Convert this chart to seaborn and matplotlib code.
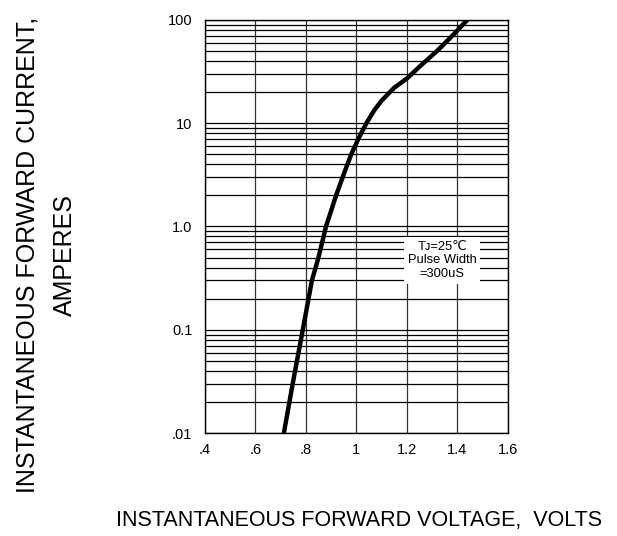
import numpy as np
import pandas as pd
import seaborn as sns
import matplotlib
matplotlib.use('Agg')
import matplotlib.pyplot as plt
from matplotlib.ticker import LogLocator, FixedLocator, NullFormatter

# Curve
voltage = [0.713, 0.750, 0.788, 0.824, 0.850, 0.880, 0.920, 0.950, 0.980, 1.010, 1.040, 1.070, 1.100, 1.150, 1.200, 1.260, 1.320, 1.380, 1.440]
current = [0.01, 0.032, 0.1, 0.3, 0.5, 1.0, 2.0, 3.2, 5.0, 7.2, 10.0, 13.2, 16.5, 22.0, 27.0, 37.0, 50.0, 70.0, 100.0]

x_ticks = [0.4, 0.6, 0.8, 1.0, 1.2, 1.4, 1.6]
x_tick_labels = ['.4', '.6', '.8', '1', '1.2', '1.4', '1.6']
y_ticks = [0.01, 0.1, 1.0, 10, 100]
y_tick_labels = ['.01', '0.1', '1.0', '10', '100']

df = pd.DataFrame({'voltage': voltage, 'current': current})

sns.set_style('white')
plt.rcParams['font.family'] = ['Liberation Sans', 'DejaVu Sans']
plt.rcParams['text.color'] = 'black'
plt.rcParams['xtick.color'] = 'black'
plt.rcParams['ytick.color'] = 'black'

fig = plt.figure(figsize=(6.17, 5.36), dpi=100)
ax = fig.add_axes([0.332, 0.192, 0.491, 0.771])

sns.lineplot(data=df, x='voltage', y='current', color='black', linewidth=3.2,
             sort=False, ax=ax, zorder=5)

ax.set_yscale('log')
ax.set_xlim(0.4, 1.6)
ax.set_ylim(0.01, 100)

ax.xaxis.set_major_locator(FixedLocator(x_ticks))
ax.set_xticklabels(x_tick_labels)
ax.yaxis.set_major_locator(FixedLocator(y_ticks))
ax.set_yticklabels(y_tick_labels)
ax.yaxis.set_minor_locator(LogLocator(base=10, subs=np.arange(2, 10)))
ax.yaxis.set_minor_formatter(NullFormatter())

ax.grid(True, which='major', axis='x', color='#333333', linewidth=0.9)
ax.grid(True, which='both', axis='y', color='black', linewidth=0.9)
ax.tick_params(which='both', length=0, labelsize=10.5)
ax.tick_params(axis='x', pad=7)
ax.tick_params(axis='y', pad=9)
for s in ax.spines.values():
    s.set_color('black')
    s.set_linewidth(1.0)

ax.set_xlabel('')
ax.set_ylabel('')

ax.text(1.34, 0.47, 'T\u1d0a=25\u2103\nPulse Width\n=300uS',
        ha='center', va='center', fontsize=9.3, linespacing=1.2, zorder=4,
        bbox=dict(facecolor='white', edgecolor='none', pad=2.5),
        family=['Liberation Sans', 'DejaVu Sans', 'Noto Sans CJK SC'])

fig.text(0.582, 0.028, 'INSTANTANEOUS FORWARD VOLTAGE,  VOLTS', ha='center', va='center', fontsize=15.5)
fig.text(0.075, 0.525, 'INSTANTANEOUS FORWARD CURRENT,\nAMPERES', ha='center', va='center',
         rotation=90, fontsize=18, linespacing=1.7)

fig.savefig('out.png', dpi=100)
